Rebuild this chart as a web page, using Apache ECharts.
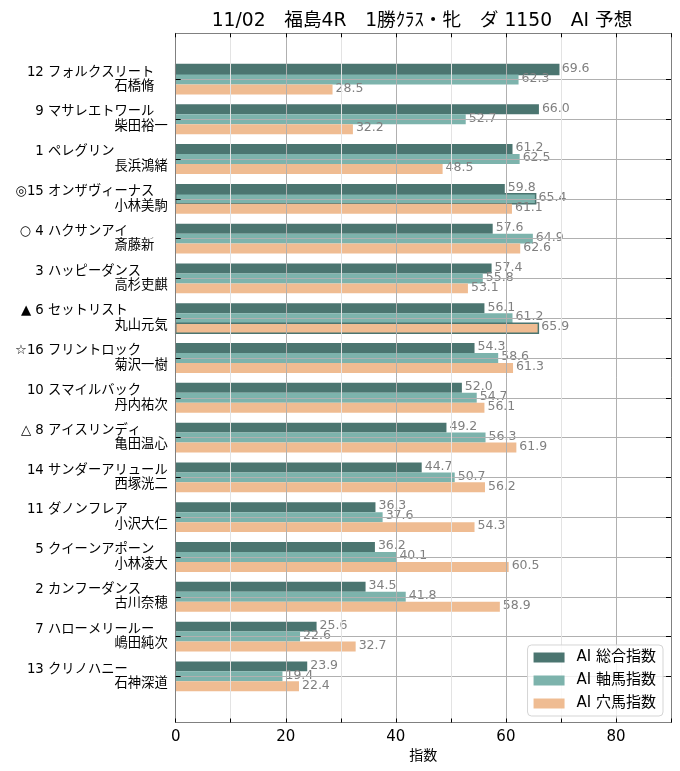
<!DOCTYPE html>
<html><head><meta charset="utf-8">
<script src="https://cdn.jsdelivr.net/npm/echarts@6/dist/echarts.min.js"></script>
<style>html,body{margin:0;padding:0;background:#fff}#c{width:680px;height:771px}</style>
</head><body><div id="c"></div>
<script>
const horses = ['12 フォルクスリート','9 マサレエトワール','1 ペレグリン','◎15 オンザヴィーナス','○ 4 ハクサンアイ','3 ハッピーダンス','▲ 6 セットリスト','☆16 フリントロック','10 スマイルバック','△ 8 アイスリンディ','14 サンダーアリュール','11 ダノンフレア','5 クイーンアポーン','2 カンフーダンス','7 ハローメリールー','13 クリノハニー'];
const jockeys = ['石橋脩','柴田裕一','長浜鴻緒','小林美駒','斎藤新','高杉吏麒','丸山元気','菊沢一樹','丹内祐次','亀田温心','西塚洸二','小沢大仁','小林凌大','古川奈穂','嶋田純次','石神深道'];
const sogo = [69.6,66.0,61.2,59.8,57.6,57.4,56.1,54.3,52.0,49.2,44.7,36.3,36.2,34.5,25.6,23.9];
const jiku = [62.3,52.7,62.5,65.4,64.9,55.8,61.2,58.6,54.7,56.3,50.7,37.6,40.1,41.8,22.6,19.4];
const ana  = [28.5,32.2,48.5,61.1,62.6,53.1,65.9,61.3,56.1,61.9,56.2,54.3,60.5,58.9,32.7,22.4];
const seriesNames = ['AI 総合指数','AI 軸馬指数','AI 穴馬指数'];
const titleText = '11/02　福島4R　1勝ｸﾗｽ・牝　ダ 1150　AI 予想';
const xName = '指数';

const colors = ['#4B7570','#7DB3AC','#EFBC92'];
const FONT = '"DejaVu Sans", "Noto Sans CJK JP", sans-serif';
const idx = horses.map((_, i) => i);
const FW = '\u3000';

function padHorse(s) {
  const name = s.slice(s.lastIndexOf(' ') + 1);
  const n = Array.from(name).length;
  return s + FW.repeat(Math.max(0, 9 - n));
}
function padJockey(s) {
  const n = Array.from(s).length;
  return s + FW.repeat(Math.max(0, 4 - n));
}

function makeSeries(name, values, color, offset) {
  const maxV = Math.max(...values);
  return {
    type: 'custom', name: name,
    data: values.map((v, i) => [v, i]),
    encode: { x: 0, y: 1 },
    itemStyle: { color: color },
    z: 2,
    clip: false,
    renderItem: function (params, api) {
      const v = api.value(0), i = api.value(1);
      const p0 = api.coord([0, i + offset - 0.125]);
      const p1 = api.coord([v, i + offset + 0.125]);
      const y = Math.min(p0[1], p1[1]);
      const h = Math.abs(p1[1] - p0[1]);
      const isMax = v === maxV;
      return {
        type: 'group',
        children: [
          { type: 'rect', shape: { x: p0[0], y: y, width: p1[0] - p0[0], height: h },
            style: { fill: color, stroke: isMax ? colors[0] : null, lineWidth: isMax ? 1.5 : 0 } },
          { type: 'text', z2: 5,
            style: { text: v.toFixed(1), x: p1[0] + 3, y: y + h / 2 - 1,
              align: 'left', verticalAlign: 'middle', fill: '#808080',
              fontSize: 12.5, fontFamily: FONT } }
        ]
      };
    }
  };
}

const chart = echarts.init(document.getElementById('c'));
chart.setOption({
  animation: false,
  backgroundColor: '#fff',
  textStyle: { fontFamily: FONT },
  title: { text: titleText, left: 417, textAlign: 'center', top: 7,
    textStyle: { fontSize: 18.7, fontWeight: 'normal', color: '#000', fontFamily: FONT } },
  grid: { left: 175.7, right: 9, top: 33.3, bottom: 48.5, containLabel: false },
  legend: {
    orient: 'vertical', right: 17, bottom: 55, itemWidth: 31, itemHeight: 10, itemGap: 8,
    icon: 'rect', padding: [5, 7, 5, 6], backgroundColor: 'rgba(255,255,255,0.8)',
    borderColor: '#d5d5d5', borderWidth: 1, borderRadius: 4,
    textStyle: { fontSize: 15, lineHeight: 15, color: '#000', padding: [0, 0, 0, 7], fontFamily: FONT },
    data: seriesNames
  },
  xAxis: [{
    type: 'value', min: 0, max: 90, interval: 10, position: 'bottom', z: 3,
    axisLine: { show: true, onZero: false, lineStyle: { color: '#808080' } },
    axisTick: { show: true, inside: true, length: 4, lineStyle: { color: '#000' } },
    splitLine: { show: true, lineStyle: { color: ['#b0b0b0', '#e3e3e3'] } },
    axisLabel: { fontSize: 15, color: '#000', margin: 7, fontFamily: FONT,
      formatter: v => (v % 20 === 0 && v < 90) ? String(v) : '' },
    name: xName, nameLocation: 'middle', nameGap: 26,
    nameTextStyle: { fontSize: 14, color: '#000', fontFamily: FONT }
  }, {
    type: 'value', min: 0, max: 90, interval: 10, position: 'top', z: 3,
    axisLine: { show: true, onZero: false, lineStyle: { color: '#808080' } },
    axisTick: { show: true, inside: true, length: 4, lineStyle: { color: '#000' } },
    axisLabel: { show: false }, splitLine: { show: false }
  }],
  yAxis: [{
    type: 'value', inverse: true, min: -1.16, max: 16.16, position: 'left', z: 3,
    axisLine: { show: true, onZero: false, lineStyle: { color: '#808080' } },
    axisTick: { show: true, inside: true, length: 5, customValues: idx, lineStyle: { color: '#000' } },
    axisLabel: { customValues: idx, color: '#000', fontSize: 13.3, lineHeight: 14.5, margin: 8,
      padding: [8, 0, 0, 0], fontFamily: FONT, align: 'right',
      formatter: v => padHorse(horses[v]) + '\n' + padJockey(jockeys[v]) },
    splitLine: { show: true, lineStyle: { color: '#b0b0b0' } }
  }, {
    type: 'value', inverse: true, min: -1.16, max: 16.16, position: 'right', z: 3,
    axisLine: { show: true, onZero: false, lineStyle: { color: '#808080' } },
    axisTick: { show: true, inside: true, length: 5, customValues: idx, lineStyle: { color: '#000' } },
    axisLabel: { show: false }, splitLine: { show: false }
  }],
  series: [
    makeSeries(seriesNames[0], sogo, colors[0], -0.25),
    makeSeries(seriesNames[1], jiku, colors[1], 0),
    makeSeries(seriesNames[2], ana, colors[2], 0.25)
  ]
});
</script></body></html>
